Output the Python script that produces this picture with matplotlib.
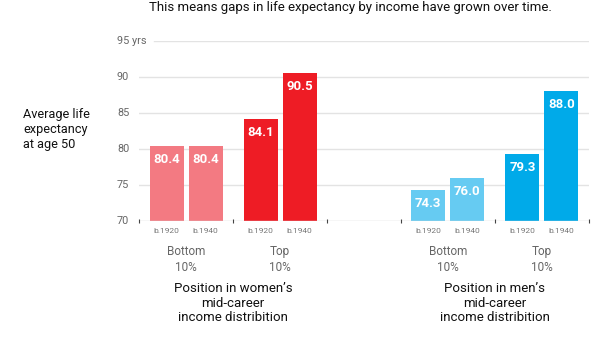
import matplotlib.pyplot as plt
from matplotlib.transforms import blended_transform_factory

plt.rcParams['font.family'] = ['Roboto', 'DejaVu Sans']

groups = ["Bottom\n10%", "Top\n10%", "Bottom\n10%", "Top\n10%"]
cohorts = ["b.1920", "b.1940"]
values_1920 = [80.4, 84.1, 74.3, 79.3]
values_1940 = [80.4, 90.5, 76.0, 88.0]
colors = ["#F37A82", "#EE1C25", "#66CBF2", "#00AAE9"]
sections = ["Position in women\u2019s\nmid-career\nincome distribition",
            "Position in men\u2019s\nmid-career\nincome distribition"]
yticks = [70, 75, 80, 85, 90, 95]

"""-----------PLOT-----------"""
fig = plt.figure(figsize=(6.16, 3.46), dpi=100)
ax = fig.add_axes([139 / 616, 125 / 346, 450 / 616, 180 / 346])

gap = 0.78
centers = [i + 0.5 + (gap if i >= 2 else 0) for i in range(len(groups))]
off = 0.207
w = 0.36

ax.set_xlim(0, 4 + gap)
ax.set_ylim(70, 95)

# gridlines
for y in yticks[1:]:
    ax.axhline(y, xmin=0.034 if y == 95 else 0, color="#e3e3e3", lw=1, zorder=0)
ax.axhline(70, color="#d6d6d6", lw=1, zorder=3)

for i, c in enumerate(centers):
    for j, vals in enumerate([values_1920, values_1940]):
        x = c + (j - 0.5) * 2 * off
        ax.bar(x, vals[i] - 70, bottom=70, width=w, color=colors[i], zorder=2)
        ax.annotate(f"{vals[i]:.1f}", (x, vals[i]), xytext=(0, -5),
                    textcoords="offset points", ha="center", va="top",
                    color="white", fontsize=9.5, fontweight="bold", zorder=4)
        ax.annotate(cohorts[j], (x, 70), xytext=(0, -7), textcoords="offset points",
                    ha="center", va="center", color="#777777", fontsize=6)
    ax.annotate(groups[i], (c, 70), xytext=(0, -17.5), textcoords="offset points",
                ha="center", va="top", color="#666666", fontsize=8.5,
                linespacing=1.25)

# section labels
for k, s in enumerate(sections):
    xc = 1 + k * (2 + gap)
    ax.annotate(s, (xc, 70), xytext=(0, -44), textcoords="offset points",
                ha="center", va="top", color="#111111", fontsize=9.5,
                linespacing=1.15)

# small ticks on baseline
for b in [0, 1, 2, 2 + gap, 3 + gap, 4 + gap]:
    ax.plot(b, 70, marker="|", color="#444444", ms=2.5, mew=0.8,
            clip_on=False, zorder=4)

# y tick labels, left aligned
trans = blended_transform_factory(ax.transAxes, ax.transData)
for y in yticks:
    ax.text(-0.049, y, "95 yrs" if y == 95 else str(y), transform=trans,
            ha="left", va="center", color="#666666", fontsize=7.8)

ax.set_xticks([])
ax.set_yticks([])
for sp in ax.spines.values():
    sp.set_visible(False)

fig.text(23 / 616, 1 - 108 / 346, "Average life\nexpectancy\nat age 50",
         ha="left", va="top", fontsize=9.2, color="#111111", linespacing=1.2)

fig.text(350 / 616, 1 - 1 / 346,
         "This means gaps in life expectancy by income have grown over time.",
         ha="center", va="top", fontsize=9.5, color="#111111")

plt.savefig("out.png", dpi=100)
"""---------END PLOT---------"""
